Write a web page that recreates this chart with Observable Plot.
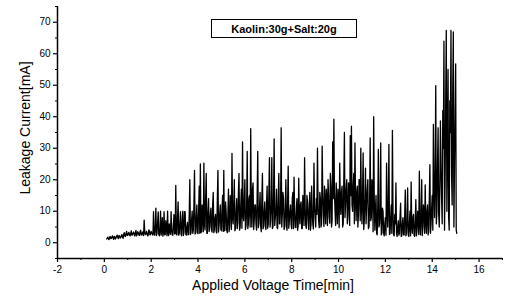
<!DOCTYPE html>
<html><head><meta charset="utf-8">
<script src="https://cdn.jsdelivr.net/npm/d3@7"></script>
<script src="https://cdn.jsdelivr.net/npm/@observablehq/plot@0.6"></script>
<style>body{margin:0;background:#fff}</style>
</head><body><div id="chart"></div>
<script>
// sampling of the recorded signal (minutes)
const startTime = 0.1;
const sampleStep = 0.05;
// leakage current readings (mA) at the main samples, one row per minute
const current = [
  1.2, 1.8, 1.0, 2.0, 1.4, 2.2, 1.1, 1.9, 1.5, 2.4, 1.3, 2.1, 1.6, 2.6, 1.4, 3.2, 2.0, 3.6, 2.4, 3.3,
  2.2, 3.8, 2.5, 3.4, 2.1, 3.9, 2.6, 3.2, 2.3, 4.0, 2.4, 3.5, 7.2, 2.6, 3.7, 2.2, 4.1, 2.5, 3.6, 2.8,
  9.9, 2.4, 11.0, 3.1, 9.8, 2.2, 10.0, 3.5, 2.1, 9.9, 2.6, 4.5, 10.0, 2.3, 3.8, 9.9, 2.5, 6.0, 2.8, 18.2,
  2.5, 13.0, 3.0, 9.9, 2.2, 10.0, 3.4, 9.8, 2.4, 6.5, 2.7, 20.0, 3.1, 10.0, 4.0, 23.0, 3.2, 12.0, 2.9, 18.0,
  25.0, 3.5, 8.0, 25.3, 4.1, 22.0, 3.0, 14.0, 5.0, 11.0, 3.4, 16.0, 4.2, 9.0, 3.1, 23.0, 5.5, 12.0, 3.8, 15.0,
  23.0, 4.0, 10.0, 3.2, 17.0, 5.0, 12.0, 28.4, 6.0, 20.0, 4.5, 14.0, 6.5, 22.0, 5.0, 17.0, 32.0, 7.0, 20.0, 5.5,
  29.0, 6.0, 15.0, 36.2, 5.0, 19.0, 7.0, 12.0, 4.0, 29.0, 6.0, 16.0, 3.5, 22.0, 5.0, 13.0, 4.2, 18.0, 6.0, 27.0,
  7.0, 27.0, 5.0, 33.0, 8.0, 17.0, 4.5, 22.0, 6.0, 36.5, 9.0, 14.0, 5.0, 20.0, 4.0, 24.3, 7.0, 12.0, 4.5, 16.0,
  20.8, 5.0, 11.0, 4.0, 20.5, 6.0, 13.0, 4.5, 10.0, 27.0, 5.5, 15.0, 7.0, 12.0, 4.0, 18.0, 6.0, 25.3, 8.0, 14.0,
  30.0, 7.0, 16.0, 5.0, 30.7, 9.0, 18.0, 6.0, 14.0, 20.0, 8.0, 22.0, 5.0, 32.0, 39.2, 10.0, 19.0, 6.0, 14.0, 25.3,
  9.0, 18.0, 6.0, 35.0, 12.0, 20.0, 8.0, 16.0, 34.0, 37.0, 10.0, 22.0, 31.7, 7.0, 18.0, 9.0, 20.0, 30.0, 6.0, 28.5,
  7.0, 23.7, 12.0, 20.0, 5.0, 33.3, 8.0, 18.0, 40.0, 4.0, 15.0, 2.5, 29.6, 6.0, 31.7, 3.0, 10.0, 2.2, 8.0, 25.3,
  5.0, 31.2, 3.0, 12.0, 35.7, 2.5, 9.0, 19.0, 2.0, 7.0, 3.0, 12.6, 2.2, 8.0, 2.5, 16.8, 3.0, 17.4, 2.0, 10.0,
  19.3, 3.0, 9.0, 2.0, 13.7, 4.0, 8.0, 22.7, 2.5, 20.0, 5.0, 10.0, 18.4, 3.0, 12.0, 4.0, 24.8, 6.0, 15.0, 37.6,
  8.0, 49.9, 10.0, 36.5, 5.0, 38.7, 14.0, 41.9, 64.0, 20.0, 67.4, 30.0, 8.0, 45.0, 67.4, 12.0, 66.9, 25.0, 56.8, 3.0
];
// readings half-way between the main samples
const currentBetween = [
  1.5, 1.2, 1.7, 1.3, 1.9, 1.4, 2.0, 1.2, 2.1, 1.6, 2.3, 1.5, 2.2, 1.8, 2.7, 2.1, 2.9, 2.3, 3.0, 2.4,
  3.0, 2.4, 3.1, 2.6, 3.3, 2.2, 3.5, 2.4, 3.6, 2.5, 3.2, 2.3, 3.4, 2.7, 3.0, 2.5, 3.8, 2.6, 3.1, 2.4,
  3.0, 5.0, 2.3, 6.5, 2.6, 4.0, 2.4, 8.0, 3.2, 2.5, 7.0, 2.2, 3.1, 6.0, 2.7, 4.2, 2.4, 9.0, 3.0, 2.6,
  8.0, 2.4, 6.0, 2.6, 7.5, 2.3, 9.9, 2.8, 5.0, 2.5, 9.0, 2.6, 7.0, 3.0, 12.0, 2.8, 8.0, 3.1, 10.0, 3.0,
  3.2, 12.0, 3.5, 6.0, 14.0, 3.0, 10.0, 3.6, 9.0, 4.0, 12.0, 3.2, 8.0, 3.5, 14.0, 3.4, 9.0, 4.2, 11.0, 3.6,
  3.8, 13.0, 4.0, 9.0, 3.5, 15.0, 4.2, 8.0, 12.0, 3.8, 10.0, 4.5, 16.0, 4.0, 12.0, 4.6, 9.0, 13.0, 4.2, 11.0,
  4.5, 14.0, 5.0, 10.0, 17.0, 4.2, 12.0, 6.0, 15.0, 4.8, 11.0, 5.2, 14.0, 4.4, 10.0, 5.5, 12.0, 4.6, 16.0, 5.0,
  12.0, 4.5, 15.0, 5.5, 10.0, 4.8, 14.0, 6.0, 12.0, 5.0, 16.0, 4.2, 11.0, 5.5, 13.0, 4.6, 10.0, 5.8, 14.0, 4.5,
  10.0, 4.8, 14.0, 5.2, 9.0, 12.0, 4.5, 15.0, 5.5, 11.0, 4.6, 13.0, 4.2, 16.0, 5.8, 10.0, 4.4, 12.0, 5.0, 9.0,
  12.0, 4.8, 14.0, 6.0, 16.0, 5.2, 12.0, 17.0, 5.5, 15.0, 6.2, 18.0, 7.0, 14.0, 16.0, 5.5, 12.0, 17.0, 4.8, 13.0,
  16.0, 5.0, 20.0, 8.0, 17.0, 6.0, 19.0, 5.5, 15.0, 12.0, 18.0, 6.0, 14.0, 16.0, 5.0, 20.0, 7.0, 12.0, 15.0, 4.2,
  14.0, 6.0, 17.0, 4.5, 12.0, 7.0, 20.0, 3.5, 14.0, 10.0, 3.0, 12.0, 5.0, 9.0, 2.5, 11.0, 3.0, 6.0, 2.4, 10.0,
  12.0, 2.6, 8.0, 3.0, 10.0, 2.2, 6.0, 3.0, 5.0, 2.4, 8.0, 2.0, 6.0, 2.5, 9.0, 2.2, 7.0, 2.6, 6.0, 2.2,
  5.0, 8.0, 2.4, 7.0, 2.2, 10.0, 2.6, 6.0, 9.0, 2.3, 12.0, 3.0, 7.0, 10.0, 2.5, 14.0, 3.0, 11.0, 4.0, 18.0,
  20.0, 6.0, 25.0, 9.0, 18.0, 24.0, 6.0, 30.0, 4.0, 45.0, 10.0, 55.0, 4.0, 35.0, 22.0, 48.0, 5.0, 40.0, 4.0
];
const xTicks = [-2, 0, 2, 4, 6, 8, 10, 12, 14, 16];
const xMinorTicks = [-1, 1, 3, 5, 7, 9, 11, 13, 15, 17];
const yTicks = [0, 10, 20, 30, 40, 50, 60, 70];
const yMinorTicks = [-5, 5, 15, 25, 35, 45, 55, 65, 75];
const xLabel = "Applied Voltage Time[min]";
const yLabel = "Leakage Current[mA]";
const legendLabel = "Kaolin:30g+Salt:20g";

const series = current.map((v, i) => ({t: startTime + i * sampleStep, v}))
  .concat(currentBetween.map((v, i) => ({t: startTime + (i + 0.5) * sampleStep, v})))
  .sort((a, b) => a.t - b.t);

const W = 508, H = 301;
const chart = Plot.plot({
  width: W, height: H,
  marginLeft: 57, marginRight: 6, marginTop: 6, marginBottom: 43,
  style: {fontFamily: "'Liberation Sans', Arial, sans-serif", fontSize: "10px", background: "white", color: "black", overflow: "visible"},
  x: {domain: [-2, 17]},
  y: {domain: [-5, 75]},
  marks: [
    Plot.line(series, {x: "t", y: "v", stroke: "black", strokeWidth: 1.3}),
    Plot.ruleY([-5], {stroke: "black", strokeWidth: 1.5}),
    Plot.ruleX([-2], {stroke: "black", strokeWidth: 1.5}),
    Plot.axisX({ticks: xTicks, tickSize: 4, tickPadding: 3, label: null, tickFormat: d => d, stroke: "black", strokeWidth: 1.2}),
    Plot.axisX({ticks: xMinorTicks, tickSize: 2, text: null, label: null, strokeWidth: 1}),
    Plot.axisY({ticks: yTicks, tickSize: 4, tickPadding: 3, label: null, strokeWidth: 1.2}),
    Plot.axisY({ticks: yMinorTicks, tickSize: 2, text: null, label: null, strokeWidth: 1})
  ]
});
const svg = d3.select(chart);
svg.append("text")
  .attr("x", 273).attr("y", 290)
  .attr("text-anchor", "middle")
  .style("font-size", "14px").style("fill", "black")
  .text(xLabel);
svg.append("text")
  .attr("transform", "translate(30,128) rotate(-90)")
  .attr("text-anchor", "middle")
  .style("font-size", "14px").style("fill", "black")
  .text(yLabel);
const lg = svg.append("g");
lg.append("rect").attr("x", 211.5).attr("y", 19.5).attr("width", 145).attr("height", 18)
  .attr("fill", "white").attr("stroke", "black").attr("stroke-width", 1);
lg.append("text").attr("x", 284).attr("y", 32.5).attr("text-anchor", "middle")
  .style("font-size", "11px").style("font-weight", "bold").style("fill", "black")
  .text(legendLabel);
document.getElementById("chart").appendChild(chart);
</script>
</body></html>
